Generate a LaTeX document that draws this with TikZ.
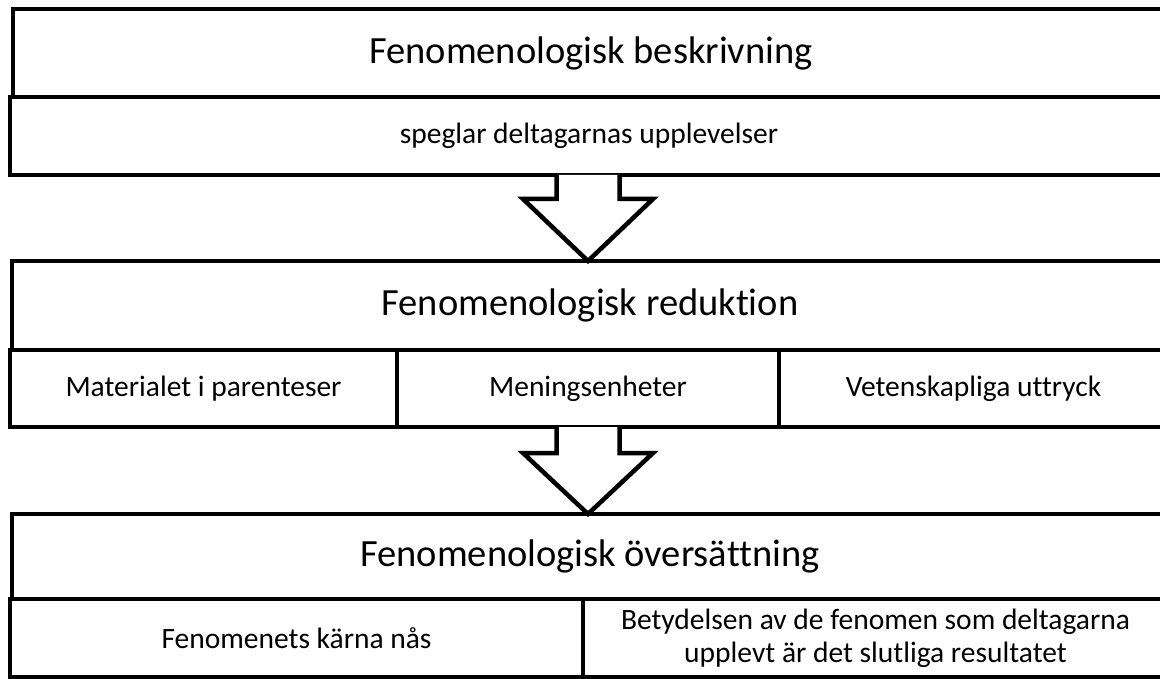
\documentclass[tikz,border=0pt]{standalone}
\usepackage{fontspec}
\setmainfont{Carlito}[Ligatures=NoCommon]
\usepackage{tikz}
\usetikzlibrary{calc}

\begin{document}
\begin{tikzpicture}[x=1pt,y=-1pt,line width=4.5pt,
  head/.style={draw,anchor=north west,inner sep=0pt,outer sep=0pt,
    minimum width=#1,minimum height=88pt,font=\fontsize{38.5}{46}\selectfont},
  head/.default=1156pt,
  cell/.style={draw,anchor=north west,inner sep=0pt,outer sep=0pt,align=center,
    minimum width=#1,minimum height=78pt,font=\fontsize{29.5}{33}\selectfont},
  cell/.default=1158pt,
  pil/.style={draw,fill=white,line join=miter}]
\useasboundingbox (0,0) rectangle (1160,679);
\clip (0,0) rectangle (1160,679);
% beskrivning
\node[head] (beskr) at (13,9) {Fenomenologisk beskrivning};
\node[cell] (beskrsub) at (10,97) {speglar deltagarnas upplevelser};
% reduktion
\node[head=1156pt,minimum height=89pt] (red) at (12,261) {Fenomenologisk reduktion};
\node[cell=387pt,minimum height=77pt] (redA) at (10,350) {Materialet i parenteser};
\node[cell=382pt,minimum height=77pt] (redB) at (397,350) {Meningsenheter};
\node[cell=389pt,minimum height=77pt] (redC) at (779,350) {Vetenskapliga uttryck};
% översättning
\node[head=1156pt,minimum height=85pt] (overs) at (12,514) {Fenomenologisk översättning};
\node[cell=573pt] (oversA) at (10,599) {Fenomenets kärna nås};
\node[cell=585pt] (oversB) at (583,599)
  {Betydelsen av de fenomen som deltagarna\\upplevt är det slutliga resultatet};
% pilar
\draw[pil] ($(redB.north)+(-31.5,-175)$) -- ++(0,24) -- ++(-33.5,0) -- (redB.north|-red.north)
  -- ($(redB.north)+(65,-151)$) -- ++(-33.5,0) -- ++(0,-24);
\draw[pil] ($(redB.south)+(-31.5,0)$) -- ++(0,26) -- ++(-33.5,0) -- (redB.south|-overs.north)
  -- ($(redB.south)+(65,26)$) -- ++(-33.5,0) -- ++(0,-26);
\end{tikzpicture}
\end{document}
